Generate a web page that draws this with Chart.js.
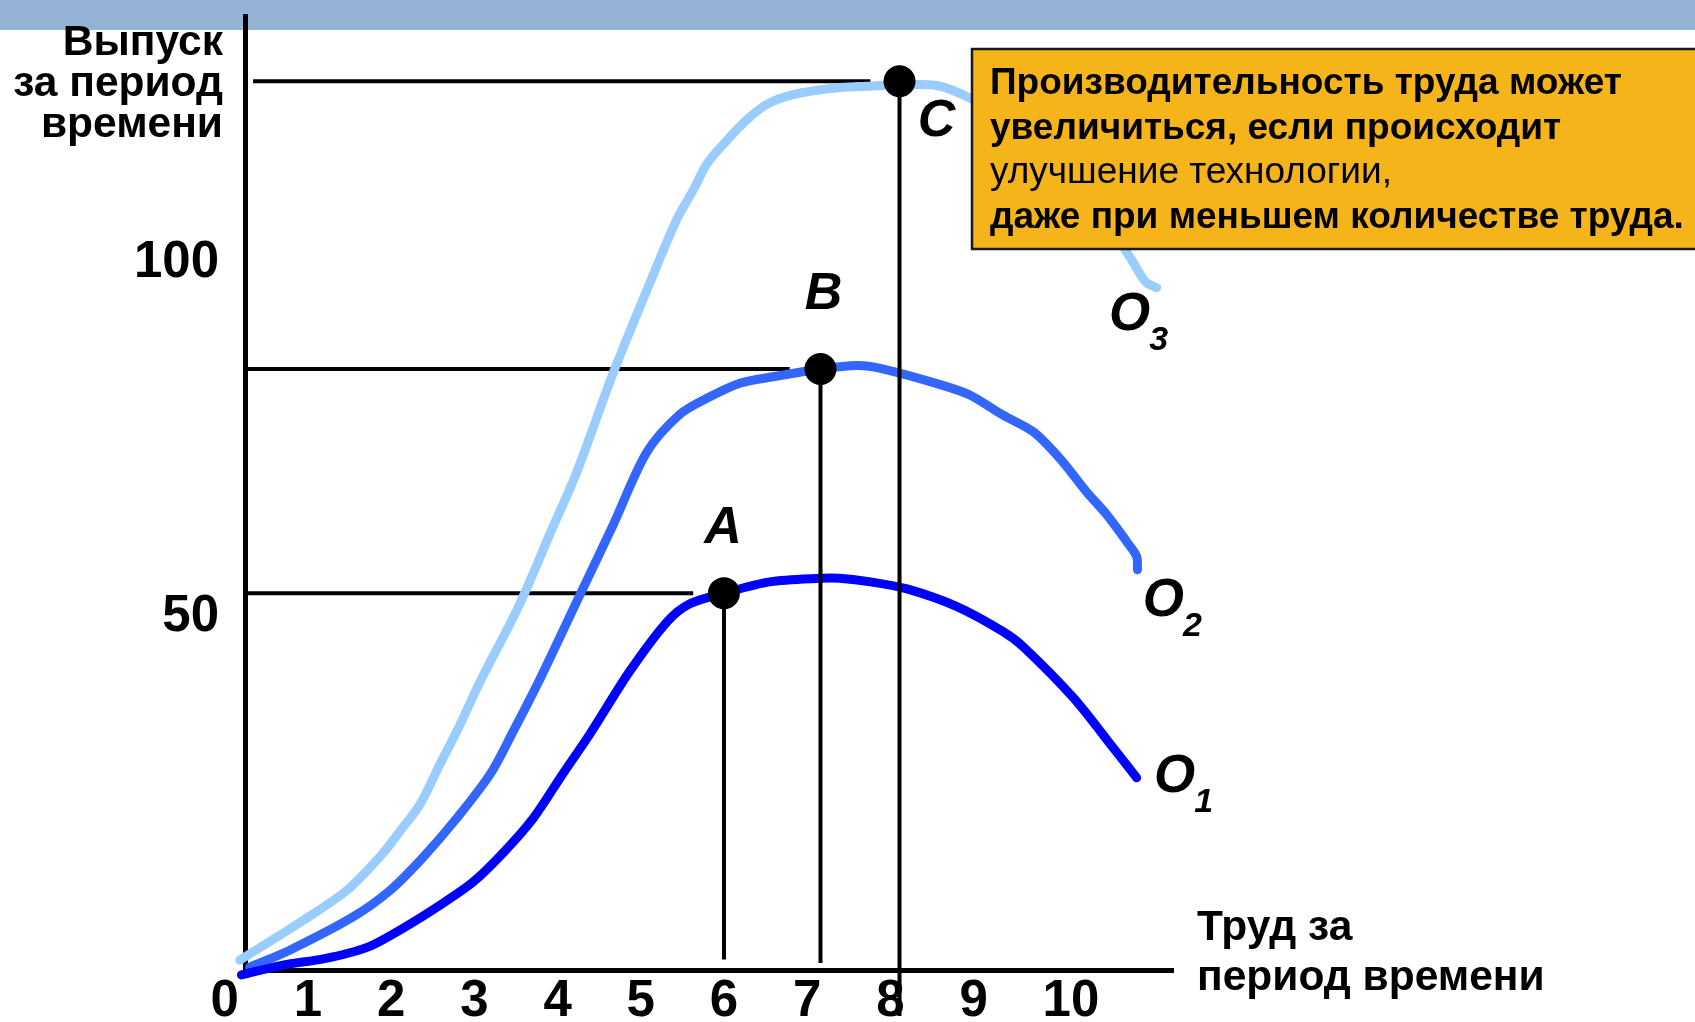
<!DOCTYPE html>
<html>
<head>
<meta charset="utf-8">
<script src="https://cdn.jsdelivr.net/npm/chart.js@4.4.1/dist/chart.umd.min.js"></script>
<style>
  html, body { margin: 0; padding: 0; background: #fff; }
  #wrap { width: 1695px; height: 1022px; position: relative; }
</style>
</head>
<body>
<div id="wrap"><canvas id="prodChart"></canvas></div>
<script>
// labour per period (x) vs output per period (y)
const o1Labour = [0.2, 0.7, 1.2, 1.71, 2.14, 2.59, 2.98, 3.34, 3.71, 4.06, 4.39, 4.87, 5.32, 5.59, 6.0, 6.55, 7.16, 7.39, 7.76, 8.2, 8.8, 9.35, 9.59, 10.2, 10.68, 10.96];
const o1Output = [-0.7, 0.7, 1.6, 3.2, 5.9, 9.2, 12.4, 16.5, 21.5, 27.7, 33.4, 42.3, 49.3, 51.8, 53.3, 54.9, 55.4, 55.4, 54.9, 53.9, 51.4, 47.9, 45.8, 38.5, 31.4, 27.2];

const o2Labour = [0.3, 0.78, 1.54, 1.99, 2.38, 2.79, 3.19, 3.46, 3.79, 4.23, 4.67, 5.07, 5.47, 5.8, 6.19, 6.59, 7.16, 7.6, 7.88, 8.6, 8.96, 9.35, 9.72, 10.04, 10.36, 10.6, 10.84, 10.96, 10.97];
const o2Output = [0.4, 2.8, 7.5, 11.3, 15.9, 21.5, 27.7, 33.6, 41.2, 52.1, 63.0, 73.2, 78.6, 80.9, 83.0, 83.9, 85.0, 85.5, 85.1, 82.8, 81.3, 78.5, 76.1, 72.3, 67.6, 64.4, 60.6, 58.5, 56.6];

const o3Labour = [0.18, 0.94, 1.47, 1.9, 2.11, 2.35, 2.59, 2.79, 3.07, 3.53, 3.92, 4.23, 4.67, 5.11, 5.43, 5.63, 5.8, 6.04, 6.28, 6.51, 6.83, 7.31, 7.72, 8.11, 8.56, 8.96, 9.6, 10.3, 10.88, 11.07, 11.2];
const o3Output = [1.4, 7.0, 11.3, 16.5, 19.7, 23.5, 29.2, 33.8, 40.8, 51.4, 62.0, 70.4, 84.5, 97.2, 106.1, 110.3, 114.1, 117.4, 120.3, 122.4, 123.8, 124.7, 125.0, 125.2, 125.1, 123.3, 119.0, 111.0, 100.8, 97.3, 96.5];

const curveNames = ['O', 'O', 'O'];
const curveIndex = ['1', '2', '3'];

// marked points A, B, C and their guide lines
const pointNames = ['A', 'B', 'C'];
const pointLabour = [6.0, 7.16, 8.11];
const pointOutput = [53.3, 85.0, 125.7];
const guideFromX = [0.24, 0.24, 0.34];
const guideToX = [5.63, 6.79, 7.76];
const guideBottomY = [1.5, 1.0, -6.5];

const xTicks = [0, 1, 2, 3, 4, 5, 6, 7, 8, 9, 10];
const yTicks = [50, 100];

const yTitle = ['Выпуск', 'за период', 'времени'];
const xTitle = ['Труд за', 'период времени'];
const noteLines = [
  { text: 'Производительность труда может', bold: true },
  { text: 'увеличиться, если происходит', bold: true },
  { text: 'улучшение технологии,', bold: false },
  { text: 'даже при меньшем количестве труда.', bold: true }
];

const FONT = '"Liberation Sans", Arial, sans-serif';
const curveColors = ['#0000FF', '#3366FF', '#99CCFF'];

function pts(xs, ys) {
  return xs.map((x, i) => ({ x: x, y: ys[i] }));
}

const curves = [pts(o1Labour, o1Output), pts(o2Labour, o2Output), pts(o3Labour, o3Output)];

const datasets = [];
// dots on top
datasets.push({
  data: pts(pointLabour, pointOutput),
  showLine: false,
  pointRadius: 16,
  pointBackgroundColor: '#000',
  pointBorderWidth: 0,
  order: 0
});
// vertical guides drawn over the curves
pointLabour.forEach((x, i) => {
  datasets.push({
    data: [{ x: x, y: pointOutput[i] }, { x: x, y: guideBottomY[i] }],
    borderColor: '#000', borderWidth: 4, pointRadius: 0, order: 1
  });
});
curves.forEach((c, i) => {
  datasets.push({
    data: c,
    borderColor: curveColors[i],
    borderWidth: 9,
    borderCapStyle: 'round',
    borderJoinStyle: 'round',
    tension: 0.3,
    pointRadius: 0,
    order: 2
  });
});
// horizontal guides go under the curves
pointLabour.forEach((x, i) => {
  datasets.push({
    data: [{ x: guideFromX[i], y: pointOutput[i] }, { x: guideToX[i], y: pointOutput[i] }],
    borderColor: '#000', borderWidth: 4, pointRadius: 0, order: 3
  });
});

const slideDecor = {
  id: 'slideDecor',
  beforeDraw(chart) {
    const c = chart.ctx;
    c.save();
    c.fillStyle = '#95B3D7';
    c.fillRect(0, 0, chart.width, 30);
    c.restore();
  },
  afterDatasetsDraw(chart) {
    // the note box hides part of O3
    const c = chart.ctx;
    c.save();
    c.fillStyle = '#F5B41A';
    c.fillRect(972, 49, 760, 200);
    c.strokeStyle = '#1a1a1a';
    c.lineWidth = 2.5;
    c.strokeRect(972, 49, 760, 200);
    c.fillStyle = '#000';
    c.textAlign = 'left';
    c.textBaseline = 'alphabetic';
    noteLines.forEach((ln, i) => {
      c.font = (ln.bold ? 'bold ' : '') + '37px ' + FONT;
      c.fillText(ln.text, 990, 94 + i * 44.7);
    });
    c.restore();
  },
  afterDraw(chart) {
    const c = chart.ctx;
    const xs = chart.scales.x, ys = chart.scales.y;
    c.save();
    c.fillStyle = '#000';

    // axis titles
    c.font = 'bold 42.5px ' + FONT;
    c.textAlign = 'right';
    c.textBaseline = 'alphabetic';
    yTitle.forEach((t, i) => c.fillText(t, 223, 55 + i * 41));
    c.textAlign = 'left';
    xTitle.forEach((t, i) => c.fillText(t, 1197, 940 + i * 50));

    // point letters
    const letterOff = [[-1, -64], [3, -74], [37, 40]];
    c.font = 'italic bold 52px ' + FONT;
    c.textAlign = 'center';
    c.textBaseline = 'middle';
    pointNames.forEach((n, i) => {
      const px = xs.getPixelForValue(pointLabour[i]);
      const py = ys.getPixelForValue(pointOutput[i]);
      c.fillText(n, px + letterOff[i][0], py + letterOff[i][1]);
    });

    // curve names at the curve ends
    const nameOff = [[38, 0], [26, 32], [-27, 28]];
    curves.forEach((cv, i) => {
      const last = cv[cv.length - 1];
      const px = xs.getPixelForValue(last.x) + nameOff[i][0];
      const py = ys.getPixelForValue(last.y) + nameOff[i][1];
      c.font = 'italic bold 53px ' + FONT;
      c.fillText(curveNames[i], px, py);
      c.font = 'italic bold 34px ' + FONT;
      c.fillText(curveIndex[i], px + 29, py + 25);
    });
    c.restore();
  }
};

new Chart(document.getElementById('prodChart'), {
  type: 'line',
  data: { datasets: datasets },
  plugins: [slideDecor],
  options: {
    responsive: true,
    maintainAspectRatio: false,
    animation: false,
    events: [],
    layout: { padding: { left: 0, right: 522, top: 12, bottom: 0 } },
    datasets: { line: { clip: false } },
    plugins: { legend: { display: false }, tooltip: { enabled: false } },
    scales: {
      x: {
        type: 'linear',
        min: 0.243,
        max: 11.397,
        grid: { display: false, drawTicks: false },
        border: { display: true, color: '#000', width: 5 },
        afterBuildTicks: (s) => { s.ticks = xTicks.map(v => ({ value: v })); },
        afterFit: (s) => { s.height = 52; s.paddingLeft = 0; s.paddingRight = 0; },
        ticks: {
          autoSkip: false,
          maxRotation: 0,
          padding: 4,
          color: '#000',
          font: { family: FONT, size: 51, weight: 'bold', lineHeight: 1.1 },
          callback: (v) => (v === 10 ? '  10' : String(v))
        }
      },
      y: {
        type: 'linear',
        min: 0,
        max: 134.93,
        grid: { display: false, drawTicks: false },
        border: { display: true, color: '#000', width: 5 },
        afterBuildTicks: (s) => { s.ticks = yTicks.map(v => ({ value: v })); },
        afterFit: (s) => { s.width = 245; s.paddingTop = 0; s.paddingBottom = 0; },
        ticks: {
          padding: 26,
          color: '#000',
          font: { family: FONT, size: 51, weight: 'bold' }
        }
      }
    }
  }
});
</script>
</body>
</html>
